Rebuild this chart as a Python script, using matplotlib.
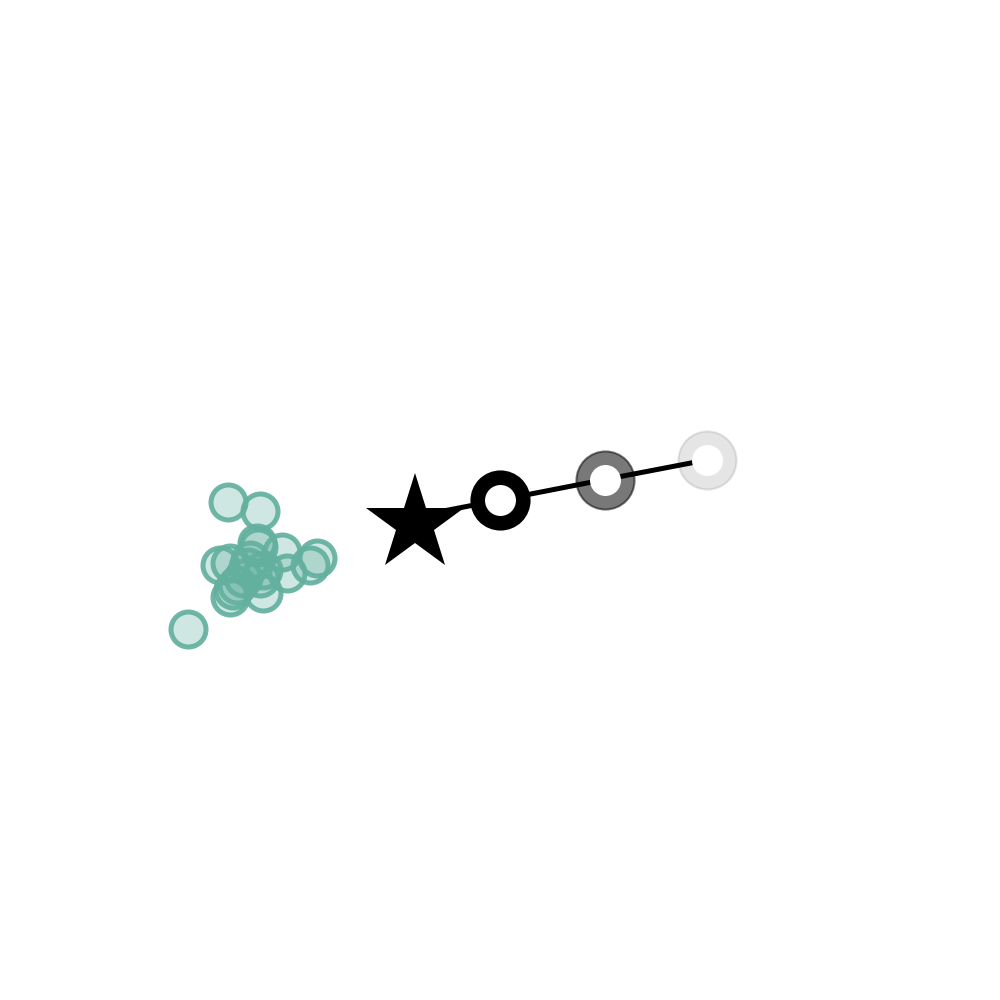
import numpy as np
import matplotlib.pyplot as plt

# cluster of samples (teal), in figure-percent units
cluster_x = [22.8, 26.0, 25.7, 25.8, 28.2, 22.0, 23.0, 31.7, 31.0, 28.7,
             24.8, 26.3, 26.0, 26.3, 23.0, 23.3, 23.7, 24.3, 18.83, 25.0]
cluster_y = [49.8, 48.9, 45.7, 45.3, 44.8, 43.5, 43.7, 44.2, 43.5, 42.7,
             43.3, 43.0, 42.2, 40.7, 40.3, 41.0, 41.5, 42.2, 37.1, 44.0]

# star (start point)
star_x = 41.45
star_y = 47.6

# trajectory: start then three steps fading out
traj_x = [41.5, 50.0, 60.5, 70.65]
traj_y = [48.35, 50.0, 52.05, 54.0]
step_alpha = [1.0, 0.53, 0.1]

fig = plt.figure(figsize=(10, 10), dpi=100)
ax = fig.add_axes([0, 0, 1, 1])
ax.set_xlim(0, 100)
ax.set_ylim(0, 100)
ax.axis('off')

teal = (0.39, 0.69, 0.625)
ax.scatter(cluster_x, cluster_y, s=25.2**2, facecolor=teal + (0.3,),
           edgecolor=teal + (0.92,), linewidths=3.6, zorder=2)

ax.plot(traj_x, traj_y, color='black', lw=3.6, zorder=3)
ax.plot(star_x, star_y, marker='*', ms=73.5, color='black', mew=0, zorder=4)
for i in range(1, len(traj_x)):
  a = step_alpha[i - 1]
  # big filled disc under the line, white hole above it
  ax.plot(traj_x[i], traj_y[i], marker='o', ms=41.8, mew=1.5,
          markerfacecolor=(0, 0, 0, a), markeredgecolor=(0, 0, 0, a), zorder=2.5)
  ax.plot(traj_x[i], traj_y[i], marker='o', ms=22.3, mew=0,
          markerfacecolor='white', zorder=3.5)

fig.savefig('out.png', dpi=100)
